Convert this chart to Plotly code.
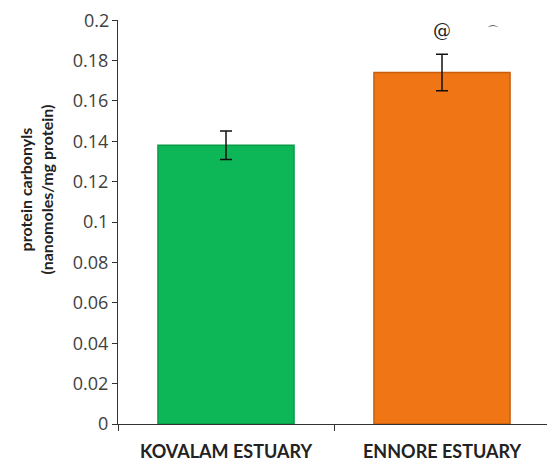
import plotly.graph_objects as go

categories = ["KOVALAM ESTUARY", "ENNORE ESTUARY"]
values = [0.138, 0.174]
errors = [0.007, 0.009]
colors = ["#0DB757", "#F07515"]
edge_colors = ["#0A9A48", "#C85E0E"]
y_title = "protein carbonyls<br>(nanomoles/mg protein)"
y_tick_values = [0, 0.02, 0.04, 0.06, 0.08, 0.1, 0.12, 0.14, 0.16, 0.18, 0.2]
y_tick_text = ["0", "0.02", "0.04", "0.06", "0.08", "0.1", "0.12", "0.14", "0.16", "0.18", "0.2"]

fig = go.Figure()
fig.add_trace(go.Bar(
    x=categories, y=values,
    marker=dict(color=colors, line=dict(color=edge_colors, width=1.5)),
    width=0.63,
    error_y=dict(type="data", array=errors, color="#111111", thickness=1.5, width=6),
))

fig.add_annotation(x=1, y=0.195, xref="x", yref="y", text="@", showarrow=False,
                   font=dict(family="DejaVu Serif", size=18, color="#222"))
fig.add_annotation(x=0.887, y=0.995, xref="paper", yref="paper", text="⌒", showarrow=False,
                   font=dict(family="DejaVu Sans", size=12, color="#333"))
fig.add_annotation(x=-0.19, y=0.58, xref="paper", yref="paper", text=y_title, showarrow=False,
                   textangle=-90, xanchor="center", yanchor="middle",
                   font=dict(size=16, color="#222", family="Lato, sans-serif", weight="bold"))
for cat in categories:
    fig.add_annotation(x=cat, y=-0.068, xref="x", yref="paper", text=cat, showarrow=False,
                       xanchor="center", yanchor="middle",
                       font=dict(size=18, color="#222", family="Lato, sans-serif", weight="bold"))
# top tick label drawn as annotation so it is not hidden at the page edge
fig.add_annotation(x=0, y=y_tick_values[-1], xref="paper", yref="y", text=y_tick_text[-1],
                   showarrow=False, xanchor="right", yanchor="middle", xshift=-7,
                   font=dict(size=18, color="#404040", family="Open Sans, sans-serif"))

fig.update_layout(
    width=547, height=453,
    margin=dict(l=110, r=5, t=12, b=37, autoexpand=False),
    paper_bgcolor="white", plot_bgcolor="white",
    showlegend=False,
    font=dict(family="Lato, Open Sans, sans-serif", color="#222"),
)
fig.update_yaxes(
    range=[0, 0.2], showgrid=False,
    tickmode="array", tickvals=y_tick_values, ticktext=y_tick_text[:-1] + [""],
    zeroline=True, zerolinecolor="#333", zerolinewidth=1.2,
    showline=True, linecolor="#333", linewidth=1.2,
    ticks="outside", ticklen=5, tickcolor="#333",
    tickfont=dict(size=18, color="#404040", family="Open Sans, sans-serif"),
    automargin=False,
)
fig.update_xaxes(
    showgrid=False, showline=True, linecolor="#333", linewidth=1.2,
    ticks="outside", tickson="boundaries", ticklen=6, tickcolor="#333",
    showticklabels=False, automargin=False,
)

fig.write_html("out.html")
